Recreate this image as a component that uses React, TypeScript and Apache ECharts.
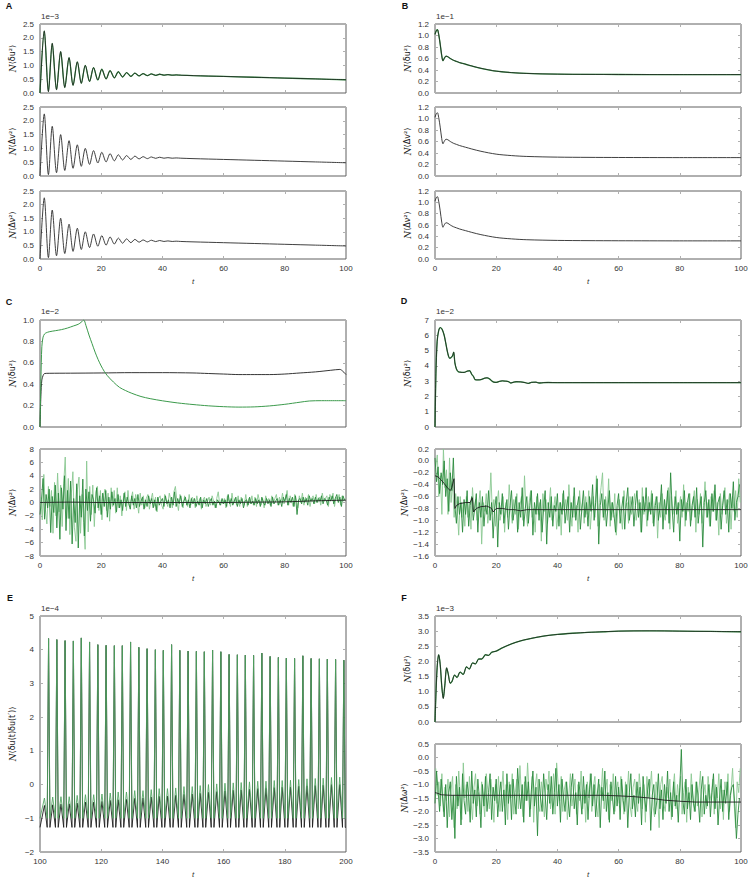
import React, { useEffect, useRef } from "react";
import * as echarts from "echarts";

const FONT = "'Liberation Sans', Arial, Helvetica, sans-serif";
const BLACK = "#1e1e1e";
const GREEN = "#3c9a4c";
const GREEN_E = "#4fa35f";
const GREEN_DARK = "#2a8a3c";
const GREEN_LIGHT = "#8ac892";

// ---------- Panel A (damped oscillation, identical in three rows) ----------
const A_T = [0, 1.4, 2.75, 4.0, 5.4, 6.75, 8.1, 9.5, 10.8, 12.2, 13.5, 14.8, 16.2, 17.5, 18.9, 20.2, 21.6, 22.9, 24.3, 25.6, 27.0, 28.3, 29.7, 31.0, 32.4, 33.7, 35.1, 36.4, 37.8, 39.1, 40.5, 41.8, 43.2, 44.5, 46, 50, 60, 70, 80, 90, 100];
const A_V = [0, 2.25, 0.05, 1.8, 0.12, 1.5, 0.2, 1.28, 0.28, 1.13, 0.35, 1.0, 0.42, 0.92, 0.47, 0.86, 0.51, 0.81, 0.55, 0.77, 0.58, 0.74, 0.6, 0.72, 0.62, 0.7, 0.63, 0.69, 0.64, 0.68, 0.645, 0.665, 0.645, 0.655, 0.645, 0.63, 0.6, 0.57, 0.54, 0.51, 0.48];

// ---------- Panel B ----------
const B_T = [0, 0.4, 0.8, 1.2, 1.7, 2.2, 2.6, 3.0, 3.6, 4.2, 5, 6, 7, 8, 10, 12, 15, 20, 25, 30, 40, 50, 60, 80, 100];
const B_V = [1.02, 1.08, 1.1, 1.02, 0.85, 0.65, 0.56, 0.6, 0.64, 0.63, 0.6, 0.57, 0.55, 0.53, 0.5, 0.47, 0.43, 0.38, 0.355, 0.34, 0.328, 0.324, 0.322, 0.32, 0.32];

// ---------- Panel C ----------
const C1G_T = [0, 0.3, 0.6, 1, 1.5, 2, 3, 5, 7, 9, 11, 12.5, 13.5, 14.3, 15, 16, 17, 18, 19, 20, 21, 22, 24, 26, 28, 30, 33, 36, 40, 45, 50, 55, 60, 65, 70, 75, 80, 85, 88, 92, 100];
const C1G_V = [0, 0.45, 0.75, 0.84, 0.87, 0.88, 0.89, 0.9, 0.91, 0.925, 0.945, 0.96, 0.98, 1.0, 0.95, 0.86, 0.78, 0.7, 0.63, 0.57, 0.52, 0.48, 0.42, 0.37, 0.34, 0.315, 0.285, 0.265, 0.245, 0.225, 0.21, 0.198, 0.19, 0.186, 0.188, 0.197, 0.212, 0.232, 0.243, 0.246, 0.246];
const C1K_T = [0, 0.3, 0.6, 1, 1.5, 3, 10, 20, 30, 40, 50, 55, 60, 65, 70, 75, 80, 85, 90, 95, 98, 99, 100];
const C1K_V = [0, 0.3, 0.44, 0.48, 0.5, 0.502, 0.503, 0.505, 0.508, 0.508, 0.505, 0.5, 0.495, 0.49, 0.49, 0.49, 0.495, 0.505, 0.515, 0.53, 0.538, 0.52, 0.49];
const C2K_T = [0, 10, 20, 40, 60, 70, 80, 90, 100];
const C2K_V = [0, 0.05, 0, 0, 0, 0.05, 0.1, 0.25, 0.35];

const NOISE_STEP = 0.5;
const C2_DARK = [
  -1.8, 0.5, 3.6, -2.5, 1.2, -0.8, 2.0, -4.5, 0.9, -1.5,
  2.6, -3.8, 1.4, -5.5, 2.2, -1.0, 4.0, -4.2, 1.8, -2.4,
  3.2, -6.2, 0.6, -3.0, 2.8, -6.8, 1.0, -2.2, 3.5, -5.0,
  2.0, -1.2, 1.6, -2.8, 1.2, 0.4, -1.6, 2.2, -0.8, 1.0,
  -1.8, 1.4, -0.6, 1.8, -2.2, 0.8, -1.0, 1.6, -0.4, 0.6,
  -1.4, 1.2, -0.8, 0.4, -1.2, 1.4, -0.6, 0.8, -0.2, -1.0,
  1.0, -0.4, 0.6, -0.8, 1.2, -0.6, 0.2, 0.8, -1.0, 0.4,
  -0.6, 1.0, -0.2, 0.6, -0.8, 0.4, -1.2, 0.8, -0.4, 0.2,
  0.6, -0.6, 1.0, -0.2, 0.4, -0.8, 0.8, -0.4, 1.6, -0.6,
  0.6, -0.2, 1.0, -0.6, 0.2, 0.8, -0.4, 0.4, -0.8, 0.6,
  -0.2, 0.6, -0.6, 0.2, -0.4, 0.8, -0.8, 0.4, -0.2, 0.6,
  -0.6, 0.2, 0.6, -0.4, 0.2, -0.8, 0.4, 0.0, -0.4, 0.6,
  -0.2, 0.4, -0.6, 1.2, -0.2, 0.6, -0.4, 0.2, 0.8, -0.6,
  0.4, -0.2, 0.6, -0.8, 0.2, 0.4, -0.4, 0.8, -0.2, 0.2,
  -0.4, 0.6, -0.2, 0.4, -0.6, 0.8, 0.0, -0.4, 0.6, -0.2,
  0.4, -0.6, 0.8, -0.2, 0.2, 0.6, -0.4, 0.4, -0.6, 0.8,
  0.2, 1.2, -0.4, 0.6, 0.0, 0.8, -0.6, 1.0, -1.8, 0.4,
  0.6, -0.2, 0.8, 0.0, 0.6, -0.4, 1.0, 0.2, 0.6, -0.2,
  0.8, 0.0, 0.6, 0.2, 1.0, -0.2, 0.6, 0.4, -0.4, 0.8,
  0.2, 1.0, -0.2, 0.6, 1.2, 0.0, 0.8, -0.6, 1.0, 0.4,
];
const C2_LIGHT = [
  0.8, -2.6, 4.2, -1.0, -3.2, 2.4, -0.6, 1.8, -4.6, 3.0,
  -2.0, 4.4, -1.4, 2.6, -3.6, 2.8, 6.8, -2.4, 3.6, -4.8,
  1.4, 4.6, -3.8, -5.8, 2.0, 3.8, -4.6, 1.2, -3.0, -7.0,
  6.2, -4.4, 2.4, -1.8, 2.6, -3.6, 1.6, 2.4, -1.2, 1.8,
  -2.6, 1.0, 2.0, -1.2, 1.4, -2.8, 2.2, -0.6, 1.8, -1.6,
  2.2, -0.8, 1.0, -2.0, 0.6, 1.6, -1.2, 1.8, -0.6, 0.4,
  1.6, -1.0, 1.2, 0.2, -1.6, 1.4, -0.4, 1.0, -0.8, 0.6,
  1.2, -1.0, 0.4, 1.4, -0.6, 0.8, -1.4, 0.6, 1.0, -0.4,
  -1.0, 1.2, 0.2, -0.6, 1.4, 0.4, -0.8, 1.6, 2.4, 0.2,
  -1.2, 1.2, 0.4, -0.8, 1.0, 0.2, -0.6, 1.2, -0.4, 0.8,
  0.4, -0.8, 1.0, -0.2, 0.6, -1.0, 0.4, 0.8, -0.6, 0.2,
  0.8, -0.4, 1.0, 0.2, -0.8, 0.6, 1.6, -0.4, 0.4, -0.2,
  0.6, -0.8, 1.0, 0.2, -0.6, 1.4, -0.2, 0.6, -0.4, 1.0,
  -0.6, 0.8, 0.2, -0.4, 1.2, -0.6, 0.6, -0.2, 1.0, -0.4,
  0.8, -0.6, 1.2, 0.2, -0.4, 0.6, -0.8, 1.0, 0.2, 0.6,
  -0.4, 1.0, -0.2, 0.6, 1.2, -0.4, 0.8, 0.0, 1.4, -0.2,
  0.6, 1.8, -0.4, 1.0, 0.2, -0.6, 1.2, 0.4, -0.8, 1.0,
  0.0, 1.4, -0.4, 0.8, 0.2, 1.2, -0.6, 0.6, 1.0, -0.2,
  1.2, 0.0, 0.8, -0.4, 1.4, 0.2, 0.6, 1.0, -0.6, 1.2,
  0.4, 1.4, -0.6, 0.8, 0.2, 1.2, -0.4, 1.0, 0.2, 0.6,
];

// ---------- Panel D ----------
const D1_T = [0, 0.3, 0.7, 1.2, 1.7, 2.3, 3, 3.6, 4.2, 4.8, 5.3, 5.8, 6.1, 6.5, 7, 7.6, 8.5, 9.5, 10.5, 11.3, 12, 12.6, 13.1, 14, 15, 16.3, 17, 17.8, 19, 20, 21, 22, 23, 24, 24.8, 25.5, 26.5, 28, 29.5, 30.5, 31.5, 33, 34, 35.5, 37, 40, 50, 60, 80, 100];
const D1_V = [0, 3.5, 5.6, 6.3, 6.5, 6.4, 6.0, 5.4, 4.8, 4.5, 4.55, 4.7, 4.9, 4.2, 3.8, 3.62, 3.58, 3.57, 3.65, 3.68, 3.45, 3.3, 3.1, 3.08, 3.1, 3.2, 3.22, 3.15, 2.95, 2.92, 2.98, 3.02, 3.0, 2.97, 2.88, 2.92, 2.96, 2.95, 2.9, 2.85, 2.92, 2.93, 2.88, 2.9, 2.91, 2.9, 2.9, 2.9, 2.9, 2.9];
const D2K_T = [0, 1, 2, 3, 4, 5, 5.5, 6.2, 6.5, 7, 8, 10, 11.5, 12.2, 12.6, 13.5, 15, 17, 18.5, 19, 20, 22, 24, 26, 28, 30, 40, 100];
const D2K_V = [-0.25, -0.27, -0.32, -0.38, -0.45, -0.5, -0.45, -0.3, -0.8, -0.75, -0.72, -0.7, -0.7, -0.62, -0.86, -0.8, -0.77, -0.76, -0.8, -0.86, -0.8, -0.8, -0.82, -0.82, -0.84, -0.82, -0.82, -0.82];
const D2_DARK = [
  0.05, -0.35, -0.1, -0.55, -0.2, -0.4, 0.0, -0.6, -0.3, -0.85,
  -0.2, -0.5, 0.05, -0.75, -1.05, -0.6, -0.9, -0.7, -1.2, -0.65,
  -0.9, -0.5, -1.1, -0.75, -0.6, -1.0, -0.8, -0.55, -1.2, -0.7,
  -0.95, -0.6, -1.1, -0.75, -0.9, -0.5, -1.0, -0.7, -1.3, -0.8,
  -0.6, -1.45, -0.7, -0.9, -0.55, -1.05, -0.8, -0.65, -1.15, -0.75,
  -0.5, -1.0, -0.8, -0.6, -1.2, -0.7, -0.95, -0.45, -1.1, -0.8,
  -0.6, -1.05, -0.75, -0.5, -1.25, -0.7, -0.9, -0.55, -1.0, -0.65,
  -1.2, -0.8, -0.5, -1.4, -0.7, -0.95, -0.6, -1.1, -0.75, -0.85,
  -0.55, -1.1, -0.7, -0.9, -0.5, -1.05, -0.8, -0.6, -1.2, -0.7,
  -0.95, -0.45, -1.0, -0.75, -0.6, -1.15, -0.8, -0.5, -0.95, -0.7,
  -1.1, -0.6, -0.85, -0.4, -1.0, -0.7, -0.3, -1.4, -0.75, -0.55,
  -0.95, -0.65, -1.1, -0.8, -0.5, -1.0, -0.7, -0.9, -1.2, -0.75,
  -0.55, -1.05, -0.8, -0.6, -1.15, -0.7, -0.45, -1.0, -0.8, -0.6,
  -1.1, -0.75, -0.5, -0.95, -0.7, -1.2, -0.6, -0.85, -0.45, -1.0,
  -0.7, -0.9, -0.55, -1.1, -0.75, -0.6, -1.0, -0.8, -0.4, -1.15,
  -0.65, -0.9, -0.5, -1.05, -0.2, -0.8, -1.2, -0.6, -0.9, -0.7,
  -1.35, -0.65, -0.85, -0.5, -1.0, -0.7, -0.55, -1.1, -0.75, -0.6,
  -0.95, -0.45, -1.05, -0.8, -0.6, -1.45, -0.7, -0.5, -0.95, -0.65,
  -1.1, -0.55, -0.85, -0.4, -1.0, -0.7, -0.6, -1.15, -0.75, -0.5,
  -0.9, -0.65, -1.2, -0.55, -0.8, -0.35, -1.0, -0.7, -0.6, -0.4,
];
const D2_LIGHT = [
  -0.1, 0.1, -0.6, -0.25, -0.9, 0.2, -0.45, -0.15, -0.9, 0.05,
  -0.7, -0.35, -0.95, -0.55, -0.8, -1.25, -0.6, -0.95, -0.7, -1.1,
  -0.6, -0.95, -0.7, -1.15, -0.45, -0.85, -0.65, -1.0, -0.75, -0.5,
  -1.4, -0.7, -0.85, -0.55, -1.05, -0.8, -0.2, -0.9, -0.65, -1.1,
  -0.75, -0.5, -1.0, -0.85, -0.6, -1.2, -0.7, -0.95, -0.4, -0.8,
  -1.05, -0.65, -0.9, -0.55, -1.15, -0.75, -0.6, -1.0, -0.25, -0.85,
  -1.1, -0.7, -0.5, -0.95, -0.8, -1.2, -0.6, -0.9, -0.7, -1.35,
  -0.55, -0.85, -0.65, -1.05, -0.75, -0.45, -1.0, -0.8, -0.6, -1.15,
  -0.9, -0.7, -1.25, -0.55, -0.85, -0.65, -1.0, -0.4, -0.8, -1.1,
  -0.6, -0.95, -0.75, -1.2, -0.5, -0.85, -0.7, -1.05, -0.6, -0.9,
  -0.5, -1.15, -0.8, -0.6, -0.95, -0.25, -1.1, -0.7, -0.45, -0.2,
  -1.0, -0.6, -0.85, -0.3, -1.1, -0.7, -0.95, -0.55, -1.25, -0.8,
  -0.65, -0.9, -1.15, -0.5, -0.8, -0.7, -1.05, -0.6, -0.9, -0.75,
  -0.55, -1.0, -0.8, -0.65, -1.2, -0.45, -0.9, -0.7, -1.1, -0.6,
  -0.85, -0.5, -1.05, -0.75, -0.6, -1.3, -0.7, -0.95, -0.55, -0.85,
  -1.0, -0.7, -0.45, -1.15, -0.6, -0.9, -0.75, -0.5, -1.05, -0.8,
  -0.6, -0.95, -0.4, -1.1, -0.7, -0.85, -0.55, -1.0, -0.75, -0.5,
  -1.2, -0.65, -0.9, -0.55, -1.05, -0.75, -0.35, -0.95, -0.7, -1.1,
  -0.6, -0.85, -0.5, -1.0, -0.7, -1.25, -0.55, -0.9, -0.65, -0.45,
  -1.05, -0.75, -0.55, -1.15, -0.6, -0.85, -0.5, -0.95, -0.3, -0.7,
];

// ---------- Panel E (t from 100 to 200) ----------
const E_SPIKE_T = [102.8, 105.5, 108.2, 110.9, 113.5, 116.2, 118.9, 121.6, 124.3, 126.9, 129.6, 132.3, 135.0, 137.7, 140.3, 143.0, 145.7, 148.4, 151.1, 153.7, 156.4, 159.1, 161.8, 164.5, 167.1, 169.8, 172.5, 175.2, 177.9, 180.5, 183.2, 185.9, 188.6, 191.3, 193.9, 196.6, 199.3];
const E_SPIKE_V = [4.33, 4.30, 4.27, 4.26, 4.35, 4.23, 4.15, 4.13, 4.12, 4.12, 4.23, 4.07, 4.03, 4.00, 3.98, 4.15, 3.98, 3.96, 3.95, 3.94, 3.99, 3.94, 3.86, 3.85, 3.84, 3.83, 3.90, 3.80, 3.77, 3.75, 3.74, 3.82, 3.74, 3.73, 3.72, 3.71, 3.69];
const E_BUMP_GREEN = [-0.4, -0.37, -0.36, -0.36, -0.32, -0.3, -0.3, -0.28, -0.25, -0.22, -0.22, -0.18, -0.18, -0.15, -0.12, -0.12, -0.1, -0.06, -0.06, -0.03, 0.0, 0.02, 0.04, 0.05, 0.06, 0.08, 0.1, 0.1, 0.12, 0.12, 0.13, 0.15, 0.17, 0.18, 0.19, 0.21, 0.22];
const E_BUMP_BLACK = [-0.62, -0.6, -0.58, -0.57, -0.55, -0.52, -0.52, -0.5, -0.47, -0.45, -0.44, -0.41, -0.4, -0.37, -0.35, -0.34, -0.32, -0.29, -0.28, -0.26, -0.23, -0.21, -0.19, -0.17, -0.16, -0.14, -0.12, -0.11, -0.09, -0.08, -0.07, -0.05, -0.04, -0.03, -0.02, 0.0, 0.0];
const E_TROUGH_GREEN = -1.0;
const E_TROUGH_BLACK = -1.27;
const E_BUMP_LEAD = 1.35; // bump precedes each spike by half a period
const E_TROUGH_HALF = 0.45; // half-width of a spike at its base

// ---------- Panel F ----------
const F1_T = [0, 0.3, 0.7, 1.2, 1.7, 2.2, 2.7, 3.2, 3.8, 4.3, 5.0, 5.6, 6.4, 7.2, 8.2, 9.2, 10.3, 11.2, 12.3, 13.2, 14.3, 15.3, 16.5, 17.5, 18.5, 20, 22, 25, 28, 30, 35, 40, 45, 50, 55, 60, 70, 80, 90, 100];
const F1_V = [0, 0.9, 1.8, 2.22, 1.9, 1.2, 0.78, 1.2, 1.79, 1.6, 1.28, 1.35, 1.55, 1.47, 1.65, 1.57, 1.82, 1.75, 1.95, 1.92, 2.08, 2.08, 2.22, 2.2, 2.3, 2.34, 2.45, 2.58, 2.68, 2.73, 2.83, 2.89, 2.93, 2.96, 2.98, 3.0, 3.01, 3.0, 2.99, 2.98];
const F2K_T = [0, 1, 2, 5, 20, 40, 55, 60, 65, 70, 75, 80, 85, 100];
const F2K_V = [-1.3, -1.33, -1.38, -1.4, -1.4, -1.4, -1.4, -1.42, -1.45, -1.5, -1.58, -1.62, -1.65, -1.65];
const F2_DARK = [
  -1.7, -0.5, -1.2, -2.0, -0.8, -1.5, -2.2, -1.0, -2.6, -1.3,
  -0.9, -2.3, -1.4, -3.0, -0.7, -1.8, -1.1, -2.5, -0.6, -1.6,
  -2.1, -0.9, -1.4, -2.4, -0.5, -1.7, -1.2, -2.2, -0.8, -1.5,
  -2.6, -1.0, -1.8, -0.7, -2.0, -1.3, -0.6, -2.3, -1.1, -1.6,
  -0.8, -2.2, -1.4, -0.9, -2.0, -1.2, -2.5, -0.6, -1.7, -1.0,
  -2.3, -0.8, -1.5, -2.1, -0.4, -1.3, -1.9, -1.0, -2.4, -0.7,
  -1.6, -0.9, -2.2, -1.2, -0.5, -1.8, -1.1, -2.9, -0.8, -1.5,
  -2.0, -0.6, -1.4, -2.3, -1.0, -1.7, -0.7, -2.1, -1.3, -0.4,
  -1.8, -1.0, -2.4, -0.8, -1.5, -2.0, -0.9, -1.6, -2.2, -1.1,
  -0.6, -1.9, -1.3, -2.5, -0.9, -1.4, -2.1, -0.7, -1.7, -1.0,
  -2.3, -1.2, -0.6, -1.8, -1.0, -2.2, -1.4, -0.8, -2.6, -1.1,
  -1.6, -0.5, -2.0, -1.3, -2.4, -0.9, -1.5, -2.1, -0.7, -1.8,
  -1.1, -2.3, -0.8, -1.6, -2.0, -1.0, -2.6, -1.3, -0.6, -1.9,
  -1.4, -2.2, -0.9, -1.7, -1.1, -2.5, -0.7, -1.5, -2.0, -1.2,
  -0.8, -2.7, -1.4, -1.0, -2.1, -1.6, -0.6, -1.9, -1.2, -2.3,
  -1.0, -1.7, -0.5, -2.0, -1.3, -2.2, -0.9, -1.8, -1.4, -2.4,
  -1.1, 0.3, -1.6, -2.1, -0.8, -1.9, -1.3, -2.3, -1.0, -1.7,
  -2.0, -0.9, -1.5, -2.4, -1.2, -0.7, -2.1, -1.4, -1.8, -1.0,
  -2.2, -1.3, -0.6, -1.9, -1.1, -2.5, -1.5, -0.8, -2.0, -1.2,
  -1.7, -0.9, -2.3, -1.4, -1.1, -1.0, -1.8, -3.0, -2.1, -1.5,
];
const F2_LIGHT = [
  -0.4, -1.4, -0.9, -1.8, -0.6, -2.0, -1.1, -1.6, -0.8, -2.2,
  -1.2, -0.7, -2.6, -1.0, -1.9, -0.5, -1.4, -2.3, -0.2, -1.5,
  -1.0, -2.0, -0.7, -1.6, -2.3, -1.1, -0.6, -1.8, -1.3, -2.1,
  -0.9, -1.5, -2.2, -0.6, -1.2, -1.9, -0.8, -1.4, -2.4, -1.0,
  -1.7, -0.7, -2.0, -1.2, -0.5, -1.8, -1.0, -2.3, -0.9, -1.5,
  -0.6, -2.1, -1.3, -0.8, -1.9, -0.3, -1.4, -2.2, -0.9, -1.6,
  -0.2, -1.3, -1.9, -0.7, -2.4, -1.1, -0.6, -1.7, -2.0, -0.9,
  -1.5, -2.2, -0.8, -1.2, -0.5, -1.9, -1.4, -0.6, -2.1, -0.2,
  -1.0, -1.6, -0.7, -2.0, -1.2, -0.9, -2.3, -1.4, -0.6, -1.8,
  -1.3, -0.8, -2.1, -1.0, -1.6, -0.5, -1.9, -1.2, -2.4, -0.9,
  -1.5, -0.6, -2.0, -1.1, -0.7, -1.7, -2.2, -1.0, -1.4, -0.4,
  -1.9, -1.2, -0.8, -2.3, -1.0, -1.6, -0.6, -2.0, -1.3, -0.9,
  -1.7, -0.7, -1.4, -2.1, -0.9, -1.5, -0.5, -1.8, -2.2, -1.1,
  -0.8, -1.6, -2.0, -0.6, -1.3, -1.9, -1.0, -2.4, -0.7, -1.5,
  -1.2, -0.5, -1.8, -2.2, -0.9, -1.4, -2.6, -1.0, -0.7, -1.7,
  -2.0, -1.1, -1.5, -0.8, -2.3, -1.2, -0.6, -1.9, -1.0, -1.6,
  -0.7, -2.1, -1.3, -0.9, -2.4, -1.1, -1.7, -0.6, -1.5, -2.0,
  -0.9, -1.8, -1.2, -0.5, -2.2, -1.4, -1.0, -1.9, -0.7, -1.3,
  -1.6, -0.8, -2.1, -1.0, -1.5, -0.6, -1.9, -1.2, -2.3, -0.9,
  -1.4, -0.6, -2.0, -1.2, -0.4, -1.7, -2.6, -0.9, -1.3, -0.4,
];

// ---------- helpers ----------
type Pt = [number, number];
const zip = (t: number[], v: number[]): Pt[] => t.map((x, i) => [x, v[i]]);
const noise = (vals: number[], offset: number): Pt[] => vals.map((v, i) => [i * NOISE_STEP + offset, v]);
const ePoints = (bumps: number[], trough: number): Pt[] => {
  const pts: Pt[] = [[100, trough]];
  E_SPIKE_T.forEach((t, k) => {
    pts.push([t - E_BUMP_LEAD, bumps[k]]);
    pts.push([t - E_TROUGH_HALF, trough]);
    pts.push([t, E_SPIKE_V[k]]);
    pts.push([t + E_TROUGH_HALF, trough]);
  });
  pts.push([200, trough]);
  return pts;
};

const fmt = (v: number, dec: number) => {
  if (Math.abs(v) < 1e-9) return (0).toFixed(dec);
  return (v < 0 ? "\u2212" : "") + Math.abs(v).toFixed(dec);
};

interface S { pts: Pt[]; color: string; width: number; smooth?: number; opacity?: number }
interface Sub {
  left: number; top: number; height: number;
  x: [number, number]; y: [number, number, number]; dec: number;
  showX: boolean; name: string; series: S[];
}

const W = 306;
const overlay = (pts: Pt[]): S[] => [
  { pts, color: GREEN, width: 1.3, smooth: 0.3 },
  { pts, color: BLACK, width: 0.8, smooth: 0.3 },
];
const blackOnly = (pts: Pt[]): S[] => [
  { pts, color: "#2a2a2a", width: 0.9, smooth: 0.3 },
];

const SUBS: Sub[] = [
  { left: 40, top: 24, height: 69, x: [0, 100], y: [0, 2.5, 0.5], dec: 1, showX: false, name: "δu²", series: overlay(zip(A_T, A_V)) },
  { left: 40, top: 107, height: 69, x: [0, 100], y: [0, 2.5, 0.5], dec: 1, showX: false, name: "Δv²", series: blackOnly(zip(A_T, A_V)) },
  { left: 40, top: 191, height: 68, x: [0, 100], y: [0, 2.5, 0.5], dec: 1, showX: true, name: "Δν²", series: blackOnly(zip(A_T, A_V)) },
  { left: 435, top: 24, height: 69, x: [0, 100], y: [0, 1.2, 0.2], dec: 1, showX: false, name: "δu²", series: overlay(zip(B_T, B_V)) },
  { left: 435, top: 107, height: 69, x: [0, 100], y: [0, 1.2, 0.2], dec: 1, showX: false, name: "Δv²", series: blackOnly(zip(B_T, B_V)) },
  { left: 435, top: 191, height: 68, x: [0, 100], y: [0, 1.2, 0.2], dec: 1, showX: true, name: "Δν²", series: blackOnly(zip(B_T, B_V)) },
  {
    left: 40, top: 320, height: 107, x: [0, 100], y: [0, 1.0, 0.2], dec: 1, showX: false, name: "δu²",
    series: [
      { pts: zip(C1K_T, C1K_V), color: BLACK, width: 0.9, smooth: 0.3 },
      { pts: zip(C1G_T, C1G_V), color: GREEN, width: 1.0, smooth: 0.3 },
    ],
  },
  {
    left: 40, top: 449, height: 107, x: [0, 100], y: [-8, 8, 2], dec: 0, showX: true, name: "Δν²",
    series: [
      { pts: noise(C2_LIGHT, 0.25), color: GREEN_LIGHT, width: 0.9 },
      { pts: noise(C2_DARK, 0), color: GREEN_DARK, width: 0.9 },
      { pts: zip(C2K_T, C2K_V), color: BLACK, width: 0.9, smooth: 0.3 },
    ],
  },
  { left: 435, top: 320, height: 107, x: [0, 100], y: [0, 7, 1], dec: 0, showX: false, name: "δu²", series: overlay(zip(D1_T, D1_V)) },
  {
    left: 435, top: 449, height: 107, x: [0, 100], y: [-1.6, 0.2, 0.2], dec: 1, showX: true, name: "Δν²",
    series: [
      { pts: noise(D2_LIGHT, 0.25), color: GREEN_LIGHT, width: 0.9 },
      { pts: noise(D2_DARK, 0), color: GREEN_DARK, width: 0.9 },
      { pts: zip(D2K_T, D2K_V), color: BLACK, width: 0.9 },
    ],
  },
  {
    left: 40, top: 616, height: 236, x: [100, 200], y: [-2, 5, 1], dec: 0, showX: true, name: "δu(t)δu(t′)",
    series: [
      { pts: ePoints(E_BUMP_BLACK, E_TROUGH_BLACK), color: BLACK, width: 0.9 },
      { pts: ePoints(E_BUMP_GREEN, E_TROUGH_GREEN), color: GREEN_E, width: 1.0, opacity: 0.85 },
    ],
  },
  { left: 435, top: 616, height: 106, x: [0, 100], y: [0, 3.5, 0.5], dec: 1, showX: false, name: "δu²", series: overlay(zip(F1_T, F1_V)) },
  {
    left: 435, top: 744, height: 108, x: [0, 100], y: [-3.5, 0.5, 0.5], dec: 1, showX: true, name: "Δω²",
    series: [
      { pts: noise(F2_LIGHT, 0.25), color: GREEN_LIGHT, width: 0.9 },
      { pts: noise(F2_DARK, 0), color: GREEN_DARK, width: 0.9 },
      { pts: zip(F2K_T, F2K_V), color: BLACK, width: 0.9 },
    ],
  },
];

const LETTERS: [string, number, number][] = [
  ["A", 9, 6], ["B", 405, 6], ["C", 9, 302], ["D", 404, 301], ["E", 10, 598], ["F", 404, 598],
];
const EXPONENTS: [string, number, number][] = [
  ["1e\u22123", 41, 16], ["1e\u22121", 436, 16], ["1e\u22122", 41, 311], ["1e\u22122", 436, 311], ["1e\u22124", 41, 608], ["1e\u22123", 436, 608],
];

function buildOption() {
  const grid: any[] = [];
  const xAxis: any[] = [];
  const yAxis: any[] = [];
  const series: any[] = [];
  const tick = { show: true, inside: true, length: 3, lineStyle: { color: "#b0b0b0", width: 1 } };
  const labelStyle = { fontSize: 8, color: "#333", fontFamily: FONT };
  const noLine = { show: false, onZero: false };
  SUBS.forEach((s, i) => {
    grid.push({ left: s.left, top: s.top, width: W, height: s.height, show: true, borderColor: "#606060", borderWidth: 1, containLabel: false });
    const xBase = {
      gridIndex: i, type: "value", min: s.x[0], max: s.x[1], interval: 20,
      axisLine: noLine, splitLine: { show: false }, axisTick: tick,
    };
    xAxis.push({
      ...xBase, position: "bottom",
      axisLabel: { show: s.showX, margin: 5, ...labelStyle },
      name: s.showX ? "t" : "", nameLocation: "middle", nameGap: 18,
      nameTextStyle: { fontSize: 8, fontStyle: "italic", color: "#333", fontFamily: FONT },
    });
    xAxis.push({ ...xBase, position: "top", axisLabel: { show: false } });
    const yBase = {
      gridIndex: i, type: "value", min: s.y[0], max: s.y[1], interval: s.y[2],
      axisLine: noLine, splitLine: { show: false }, axisTick: tick,
    };
    yAxis.push({
      ...yBase, position: "left",
      axisLabel: { show: true, margin: 6, formatter: (v: number) => fmt(v, s.dec), ...labelStyle },
      name: "{n|N}⟨" + s.name + "⟩", nameLocation: "middle", nameGap: 23, nameRotate: 90,
      nameTextStyle: {
        fontSize: 8, color: "#222", fontFamily: "'DejaVu Sans', " + FONT,
        rich: { n: { fontSize: 9, fontStyle: "italic", fontFamily: "'DejaVu Serif', serif", color: "#222" } },
      },
    });
    yAxis.push({ ...yBase, position: "right", axisLabel: { show: false } });
    s.series.forEach((se) => {
      series.push({
        type: "line", xAxisIndex: 2 * i, yAxisIndex: 2 * i, data: se.pts,
        showSymbol: false, symbol: "none", smooth: se.smooth ?? false, clip: true,
        lineStyle: { color: se.color, width: se.width, opacity: se.opacity ?? 1 },
        emphasis: { disabled: true }, silent: true,
      });
    });
  });
  const graphic: any[] = [];
  LETTERS.forEach(([t, x, y]) => graphic.push({
    type: "text", x, y,
    style: { text: t, fontSize: 9, fontWeight: "bold", fontFamily: FONT, fill: "#111", align: "center", verticalAlign: "middle" },
  }));
  EXPONENTS.forEach(([t, x, y]) => graphic.push({
    type: "text", x, y,
    style: { text: t, fontSize: 8, fontFamily: FONT, fill: "#333", align: "left", verticalAlign: "middle" },
  }));
  return { animation: false, backgroundColor: "#ffffff", grid, xAxis, yAxis, series, graphic };
}

export default function App() {
  const ref = useRef<HTMLDivElement>(null);
  useEffect(() => {
    if (!ref.current) return;
    const chart = echarts.init(ref.current, undefined, { renderer: "svg" });
    chart.setOption(buildOption() as any);
    return () => chart.dispose();
  }, []);
  return <div ref={ref} style={{ position: "absolute", left: 0, top: 0, width: 751, height: 881 }} />;
}
